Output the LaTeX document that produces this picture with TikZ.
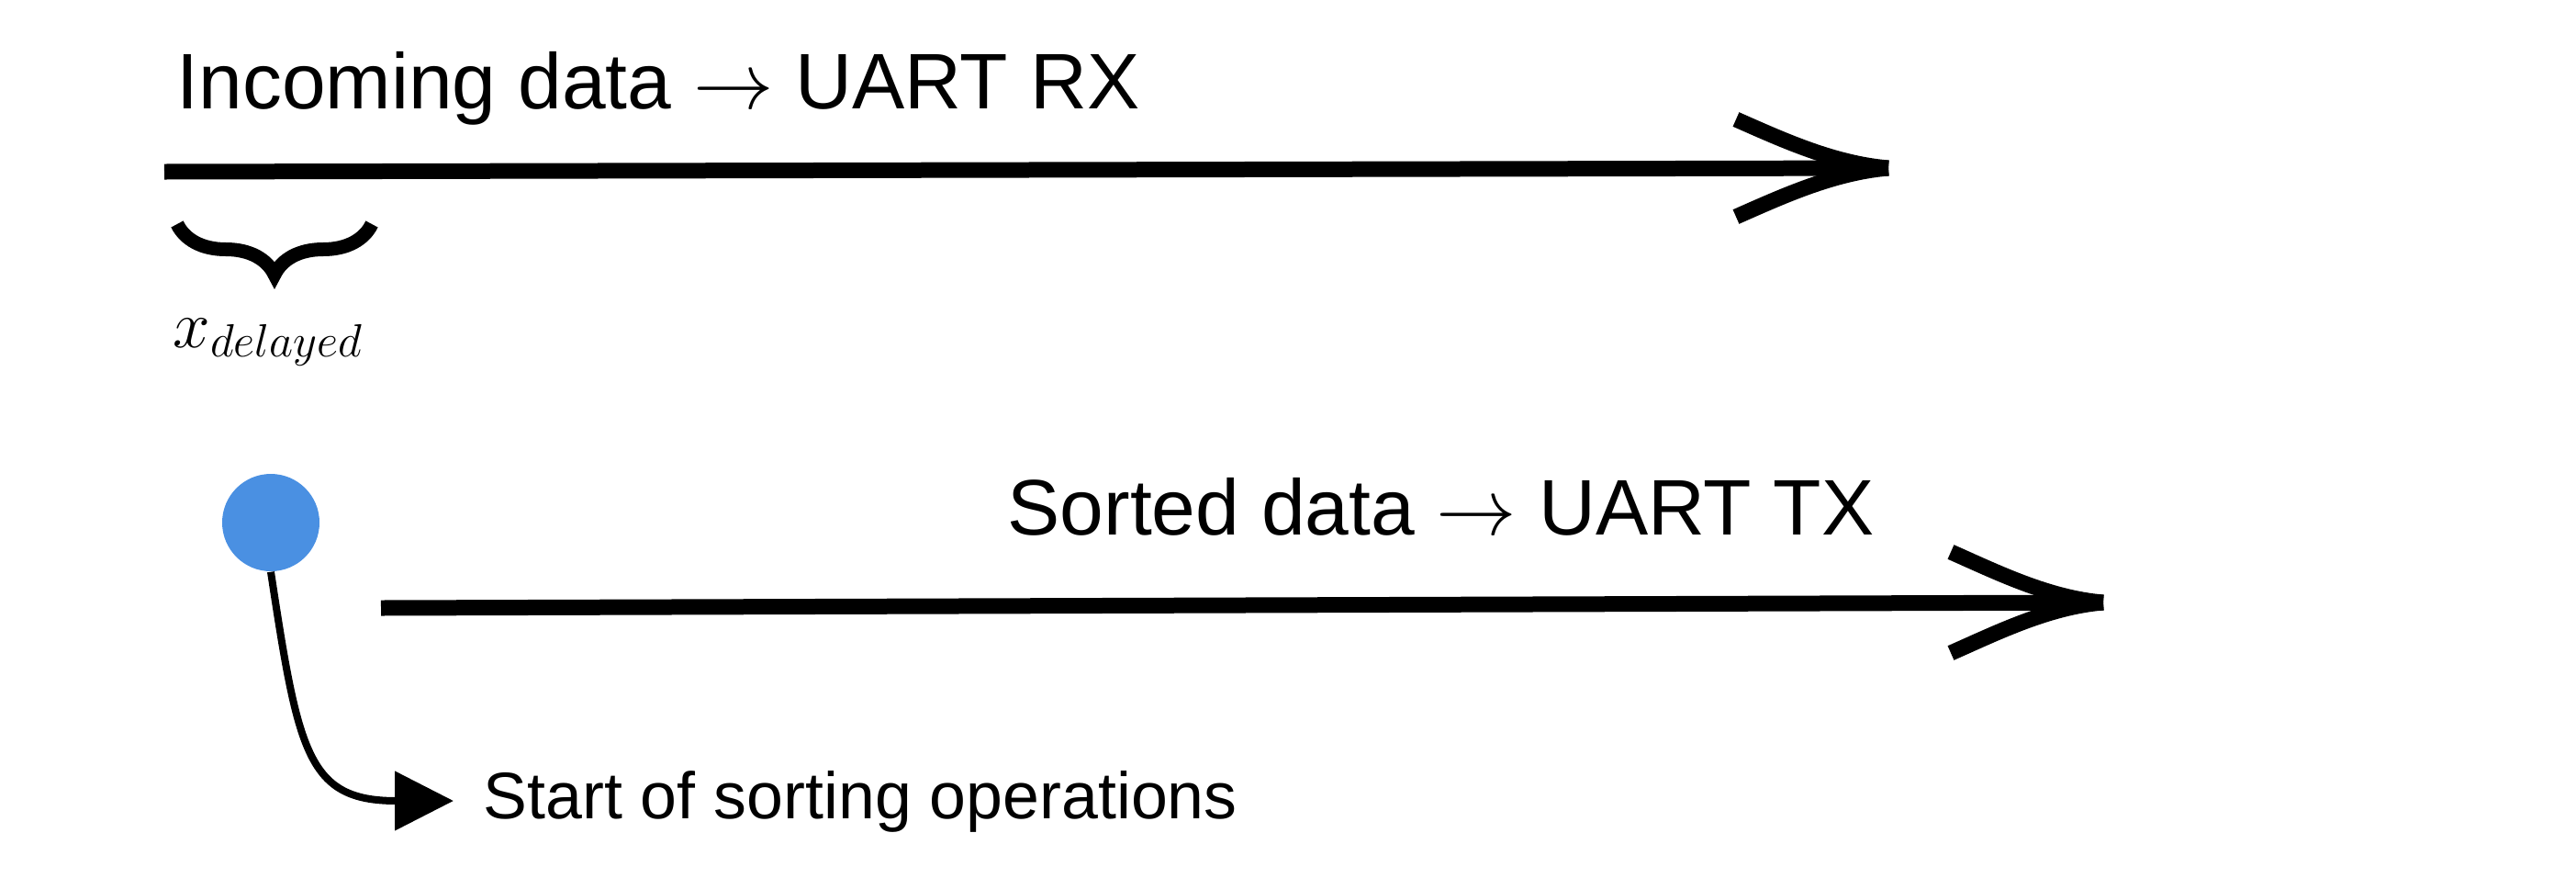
\documentclass[tikz,border=0pt]{standalone}
\usepackage{fontspec}
\setmainfont{Liberation Sans}
\usetikzlibrary{arrows.meta,decorations.pathreplacing}
\definecolor{dotblue}{RGB}{74,144,226}
\begin{document}
\begin{tikzpicture}[x=1cm,y=1cm,
  bigtext/.style={inner sep=0pt, anchor=base west, font=\fontsize{24.4}{28}\selectfont},
  smalltext/.style={inner sep=0pt, anchor=base west, font=\fontsize{20.4}{24}\selectfont},
  flow/.style={line width=0.17cm},
  barb/.style={line width=0.17cm},
  startdot/.style={circle, fill=dotblue, minimum size=1.06cm, inner sep=0pt},
  pointer/.style={line width=0.08cm, -{Triangle[length=6.4mm,width=6.3mm]}},
  bracestyle/.style={decorate, decoration={brace, mirror, amplitude=0.55cm}, line width=0.15cm}
]
\useasboundingbox (0,0) rectangle (28.06,-9.55);

% top flow
\coordinate (rxstart) at (1.79,-1.87);
\coordinate (rxend) at (20.57,-1.83);
\draw[flow] (rxstart) -- (rxend);
\draw[barb] (rxend) .. controls +(-0.6,0.05) and +(0.5,-0.22) .. ++(-1.66,0.53);
\draw[barb] (rxend) .. controls +(-0.6,-0.05) and +(0.5,0.22) .. ++(-1.66,-0.53);
\node[bigtext] (rxlabel) at (1.92,-1.18) {Incoming data $\rightarrow$ UART RX};

% brace
\coordinate (brl) at (1.93,-2.44);
\coordinate (brr) at (4.05,-2.44);
\draw[bracestyle] (brl) -- (brr);
\node[inner sep=0pt, anchor=base west, font=\fontsize{21}{24}\selectfont] (xdel) at (1.88,-3.78) {$x_{delayed}$};

% bottom flow
\coordinate (txstart) at (4.15,-6.62);
\coordinate (txend) at (22.91,-6.56);
\draw[flow] (txstart) -- (txend);
\draw[barb] (txend) .. controls +(-0.6,0.05) and +(0.5,-0.22) .. ++(-1.66,0.55);
\draw[barb] (txend) .. controls +(-0.6,-0.05) and +(0.5,0.22) .. ++(-1.66,-0.55);
\node[bigtext] (txlabel) at (10.97,-5.82) {Sorted data $\rightarrow$ UART TX};

% start dot and pointer
\node[startdot] (dot) at (2.95,-5.69) {};
\coordinate (ptip) at (4.94,-8.72);
\draw[pointer] (dot.south) .. controls (3.25,-8.2) and (3.35,-8.72) .. (ptip);
\node[smalltext] (startlabel) at (5.26,-8.91) {Start of sorting operations};
\end{tikzpicture}
\end{document}
